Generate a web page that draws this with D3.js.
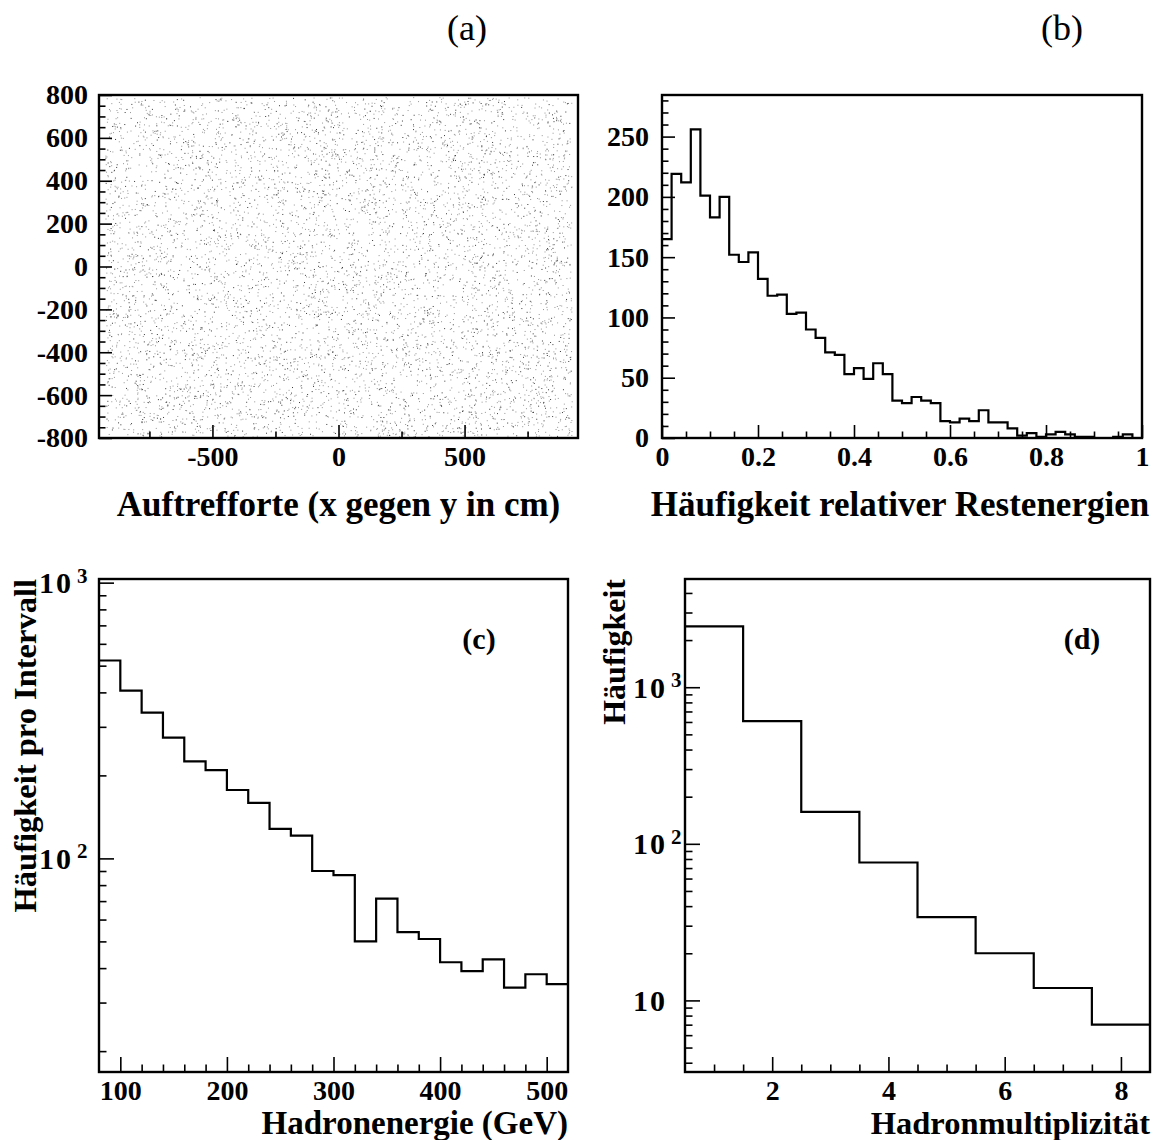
<!DOCTYPE html>
<meta charset="utf-8">
<script src="https://d3js.org/d3.v7.min.js"></script>
<style>
  body { margin: 0; background: #fff; }
  text { font-family: "Liberation Serif", "Times New Roman", serif; font-weight: bold; fill: #000; }
</style>
<div id="chart"></div>
<script>

// ---- data ----
// (a) hit map: a uniform cloud of single hits, individual points can't be read,
// so only its extent and size are kept here
var hitXRange = [-925, 925];
var hitYRange = [-795, 790];
var hitCount = 7000;

// (b) relative rest energy, 50 bins of 0.02 from 0 to 1
var restBinStart = 0, restBinWidth = 0.02;
var restValues = [165, 219, 212, 256, 201, 183, 200, 152, 146, 154,
                  132, 118, 119, 103, 104, 90, 83, 71, 69, 53,
                  58, 49, 62, 53, 31, 29, 34, 31, 29, 14,
                  13, 16, 14, 23, 13, 13, 8, 2, 4, 1,
                  3, 5, 3, 1, 1, 0, 0, 1, 3, 0];

// (c) hadron energy, bins of 20 GeV from 80 to 520
var energyBinStart = 80, energyBinWidth = 20;
var energyValues = [522, 406, 338, 274, 225, 209, 177, 159, 128, 121, 90,
                    87, 50, 71.5, 54, 51, 42, 39, 43, 34, 38, 35];

// (d) hadron multiplicity
var multCategories = [1, 2, 3, 4, 5, 6, 7, 8];
var multValues = [2449, 607, 160, 76, 34, 20, 12, 7];

// tick labels
var aXTicks = [-500, 0, 500];
var aYTicks = [-800, -600, -400, -200, 0, 200, 400, 600, 800];
var bXTicks = [0, 0.2, 0.4, 0.6, 0.8, 1];
var bXLabels = ["0", "0.2", "0.4", "0.6", "0.8", "1"];
var bYTicks = [0, 50, 100, 150, 200, 250];
var cXTicks = [100, 200, 300, 400, 500];
var cYTicks = [100, 1000];
var dXTicks = [2, 4, 6, 8];
var dYTicks = [10, 100, 1000];

var svg = d3.select("#chart").append("svg")
  .attr("width", 1156)
  .attr("height", 1140);

// panel helper: frame + inward ticks on left and bottom
function panel(left, top, w, h) {
  var g = svg.append("g").attr("transform", "translate(" + left + "," + top + ")");
  g.w = w; g.h = h;
  return g;
}

function tickAxis(g, axis, transform) {
  var a = g.append("g").attr("transform", transform || null).call(axis);
  a.select(".domain").remove();
  a.selectAll("line").attr("stroke", "#000").attr("stroke-width", 1.6);
  return a;
}

function frame(g) {
  g.append("rect")
    .attr("width", g.w).attr("height", g.h)
    .attr("fill", "none").attr("stroke", "#000").attr("stroke-width", 2.4);
}

function stepLine(g, x, y, edges, values) {
  var pts = values.map(function(v, i) { return [edges[i], v]; });
  pts.push([edges[values.length], values[values.length - 1]]);
  var line = d3.line()
    .x(function(d) { return x(d[0]); })
    .y(function(d) { return y(d[1]); })
    .curve(d3.curveStepAfter);
  g.append("path").datum(pts)
    .attr("d", line)
    .attr("fill", "none").attr("stroke", "#000").attr("stroke-width", 2.2);
}

// "10" + raised exponent, all "10"s start at the same x like in the original
function logLabels(g, y, values, startX) {
  values.forEach(function(v) {
    var p = Math.round(Math.log10(v));
    var t = g.append("text")
      .attr("x", startX).attr("y", y(v))
      .attr("dy", "0.35em")
      .style("font-size", "30px");
    t.append("tspan").style("letter-spacing", "2px").text("10");
    if (p > 1) {
      t.append("tspan").attr("dx", 4).attr("dy", "-0.5em")
        .style("font-size", "21px").text(p);
    }
  });
}

function range(a, b, s) { return d3.range(a, b + s / 2, s); }
var plain = function(d) { return String(d); };   // hyphen, not the unicode minus

// ---------- (a) ----------
var ga = panel(99, 95, 479, 343);
var xa = d3.scaleLinear().domain([-950, 950]).range([0, ga.w]);
var ya = d3.scaleLinear().domain([-800, 800]).range([ga.h, 0]);

var rnd = d3.randomLcg(0.4242);
var hits = d3.range(hitCount).map(function() {
  return [hitXRange[0] + rnd() * (hitXRange[1] - hitXRange[0]),
          hitYRange[0] + rnd() * (hitYRange[1] - hitYRange[0]),
          rnd()];
});
ga.append("g").selectAll("rect").data(hits).enter().append("rect")
  .attr("x", function(d) { return xa(d[0]); })
  .attr("y", function(d) { return ya(d[1]); })
  .attr("width", 1).attr("height", 1)
  .attr("fill", function(d) { return d[2] < 0.25 ? "#3a3a3a" : "#959595"; });

tickAxis(ga, d3.axisBottom(xa).tickValues([-750, -250, 250, 750]).tickSize(-6.5).tickFormat(""), "translate(0," + ga.h + ")");
tickAxis(ga, d3.axisBottom(xa).tickValues(aXTicks).tickSize(-13).tickPadding(8).tickFormat(plain), "translate(0," + ga.h + ")");
tickAxis(ga, d3.axisLeft(ya).tickValues(range(-750, 750, 50).filter(function(v) { return v % 200 !== 0; })).tickSize(-6.5).tickFormat(""));
tickAxis(ga, d3.axisLeft(ya).tickValues(aYTicks).tickSize(-13).tickPadding(11).tickFormat(plain));
ga.selectAll(".tick text").style("font-size", "28px").style("font-family", null);
frame(ga);
ga.append("text").attr("x", ga.w / 2).attr("y", 421).attr("text-anchor", "middle")
  .style("font-size", "35px").text("Auftrefforte (x gegen y in cm)");
svg.append("text").attr("x", 467).attr("y", 40).attr("text-anchor", "middle")
  .style("font-size", "36px").style("font-weight", "normal").text("(a)");

// ---------- (b) ----------
var gb = panel(662, 95, 480, 343);
var xb = d3.scaleLinear().domain([0, 1]).range([0, gb.w]);
var yb = d3.scaleLinear().domain([0, 284.5]).range([gb.h, 0]);
var restEdges = d3.range(restValues.length + 1).map(function(i) { return restBinStart + i * restBinWidth; });
stepLine(gb, xb, yb, restEdges, restValues);

tickAxis(gb, d3.axisBottom(xb).tickValues(range(0.05, 0.95, 0.05).filter(function(v) { return Math.round(v * 100) % 20 !== 0; })).tickSize(-6.5).tickFormat(""), "translate(0," + gb.h + ")");
tickAxis(gb, d3.axisBottom(xb).tickValues(bXTicks).tickSize(-13).tickPadding(8)
  .tickFormat(function(d, i) { return bXLabels[i]; }), "translate(0," + gb.h + ")");
tickAxis(gb, d3.axisLeft(yb).tickValues(range(10, 280, 10).filter(function(v) { return v % 50 !== 0; })).tickSize(-6.5).tickFormat(""));
tickAxis(gb, d3.axisLeft(yb).tickValues(bYTicks).tickSize(-13).tickPadding(13));
gb.selectAll(".tick text").style("font-size", "28px").style("font-family", null);
frame(gb);
gb.append("text").attr("x", gb.w / 2 - 2).attr("y", 421).attr("text-anchor", "middle")
  .style("font-size", "35px").text("Häufigkeit relativer Restenergien");
svg.append("text").attr("x", 1062).attr("y", 40).attr("text-anchor", "middle")
  .style("font-size", "36px").style("font-weight", "normal").text("(b)");

// ---------- (c) ----------
var gc = panel(99, 579, 469, 493);
var xc = d3.scaleLinear().domain([80, 520]).range([0, gc.w]);
var yc = d3.scaleLog().domain([16.8, 1031]).range([gc.h, 0]);
var energyEdges = d3.range(energyValues.length + 1).map(function(i) { return energyBinStart + i * energyBinWidth; });
stepLine(gc, xc, yc, energyEdges, energyValues);

tickAxis(gc, d3.axisBottom(xc).tickValues(range(120, 500, 20).filter(function(v) { return v % 100 !== 0; })).tickSize(-7.5).tickFormat(""), "translate(0," + gc.h + ")");
tickAxis(gc, d3.axisBottom(xc).tickValues(cXTicks).tickSize(-15).tickPadding(8), "translate(0," + gc.h + ")");
tickAxis(gc, d3.axisLeft(yc).tickValues([20, 30, 40, 50, 60, 70, 80, 90, 200, 300, 400, 500, 600, 700, 800, 900]).tickSize(-7.5).tickFormat(""));
tickAxis(gc, d3.axisLeft(yc).tickValues(cYTicks).tickSize(-15).tickFormat(""));
gc.selectAll(".tick text").style("font-size", "28px").style("font-family", null);
logLabels(gc, yc, cYTicks, -60);
frame(gc);
gc.append("text").attr("x", gc.w).attr("y", 555).attr("text-anchor", "end")
  .style("font-size", "33px").text("Hadronenergie (GeV)");
gc.append("text").attr("transform", "translate(-63,0) rotate(-90)")
  .attr("text-anchor", "end").style("font-size", "32.5px").text("Häufigkeit pro Intervall");
gc.append("text").attr("x", 380).attr("y", 70).attr("text-anchor", "middle")
  .style("font-size", "30px").text("(c)");

// ---------- (d) ----------
var gd = panel(685, 579, 465, 493);
var xd = d3.scaleLinear().domain([0.5, 8.5]).range([0, gd.w]);
var yd = d3.scaleLog().domain([3.49, 4910]).range([gd.h, 0]);
var multEdges = multCategories.map(function(c) { return c - 0.5; }).concat([multCategories[multCategories.length - 1] + 0.5]);
stepLine(gd, xd, yd, multEdges, multValues);

tickAxis(gd, d3.axisBottom(xd).tickValues(range(1, 8, 0.5).filter(function(v) { return v % 2 !== 0; })).tickSize(-7.5).tickFormat(""), "translate(0," + gd.h + ")");
tickAxis(gd, d3.axisBottom(xd).tickValues(dXTicks).tickSize(-15).tickPadding(8), "translate(0," + gd.h + ")");
tickAxis(gd, d3.axisLeft(yd).tickValues([4, 5, 6, 7, 8, 9, 20, 30, 40, 50, 60, 70, 80, 90, 200, 300, 400, 500, 600, 700, 800, 900, 2000, 3000, 4000]).tickSize(-7.5).tickFormat(""));
tickAxis(gd, d3.axisLeft(yd).tickValues(dYTicks).tickSize(-15).tickFormat(""));
gd.selectAll(".tick text").style("font-size", "28px").style("font-family", null);
logLabels(gd, yd, dYTicks, -52);
frame(gd);
gd.append("text").attr("x", gd.w).attr("y", 555).attr("text-anchor", "end")
  .style("font-size", "32.5px").text("Hadronmultiplizität");
gd.append("text").attr("transform", "translate(-60,0) rotate(-90)")
  .attr("text-anchor", "end").style("font-size", "32px").text("Häufigkeit");
gd.append("text").attr("x", 397).attr("y", 70).attr("text-anchor", "middle")
  .style("font-size", "30px").text("(d)");

</script>
